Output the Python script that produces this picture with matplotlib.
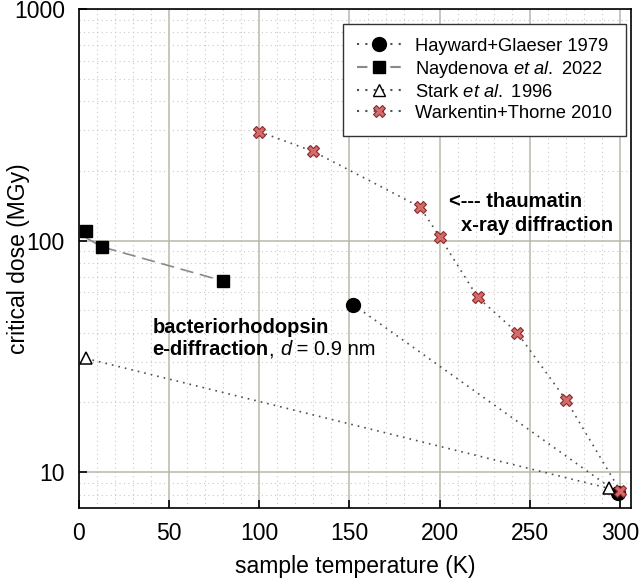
import matplotlib
matplotlib.use("Agg")
import matplotlib.pyplot as plt
from matplotlib.lines import Line2D

plt.rcParams['font.family'] = ['Liberation Sans', 'DejaVu Sans']
plt.rcParams['mathtext.fontset'] = 'custom'
plt.rcParams['mathtext.rm'] = 'Liberation Sans'
plt.rcParams['mathtext.it'] = 'Liberation Sans:italic'
plt.rcParams['mathtext.bf'] = 'Liberation Sans:bold'

# Hayward+Glaeser 1979
hg_temp = [152, 299]
hg_dose = [53, 8.1]

# Naydenova et al. 2022 (points and fitted curve)
nay_temp = [4, 13, 80]
nay_dose = [110, 94, 67]
nay_fit = [103, 94, 67]

# Stark et al. 1996
stark_temp = [4, 294]
stark_dose = [31, 8.5]

# Warkentin+Thorne 2010
wt_temp = [100, 130, 189, 200, 221, 243, 270, 300]
wt_dose = [296, 243, 140, 104, 57, 40, 20.5, 8.3]

dotcol = '#505050'
xcol = '#d46a6a'
xedge = '#8a2a2a'
fs = 14.5

fig = plt.figure(figsize=(6.4, 5.87), dpi=100)
ax = fig.add_axes([0.123, 0.1346, 0.863, 0.8496])

ax.plot(hg_temp, hg_dose, ls=(0, (1, 3)), color=dotcol, lw=1.2, zorder=3)
ax.plot(hg_temp, hg_dose, 'o', color='black', ms=10, zorder=4)

ax.plot(nay_temp, nay_fit, ls=(0, (8, 4)), color='#8a8a8a', lw=1.2, zorder=3)
ax.plot(nay_temp, nay_dose, 's', color='black', ms=8.5, zorder=4)

ax.plot(stark_temp, stark_dose, ls=(0, (1, 3)), color=dotcol, lw=1.2, zorder=3)
ax.plot(stark_temp, stark_dose, '^', mfc='white', mec='black', ms=8.5, mew=1.1, zorder=4)

ax.plot(wt_temp, wt_dose, ls=(0, (1, 3)), color=dotcol, lw=1.2, zorder=3)
ax.plot(wt_temp, wt_dose, 'X', mfc=xcol, mec=xedge, ms=9, mew=0.8, zorder=5)

ax.set_yscale('log')
ax.set_xlim(0, 306)
ax.set_ylim(7, 1000)
ax.set_xticks([0, 50, 100, 150, 200, 250, 300])
ax.set_yticks([10, 100, 1000])
ax.set_yticklabels(['10', '100', '1000'])
ax.set_xticks(range(10, 306, 10), minor=True)
ax.tick_params(which='major', direction='in', length=6, width=1.2, labelsize=16.5, pad=10)
ax.tick_params(which='minor', length=0)
ax.yaxis.set_minor_formatter(matplotlib.ticker.NullFormatter())

ax.grid(which='major', color='#b8b8a8', lw=1.1, ls='-', zorder=0)
ax.grid(which='minor', color='#c8c8c8', lw=0.8, ls=(0, (1, 3)), zorder=0)
ax.set_axisbelow(True)
for s in ax.spines.values():
    s.set_color('black')
    s.set_linewidth(1.2)

ax.set_xlabel('sample temperature (K)', fontsize=16.5, labelpad=7)
ax.set_ylabel('critical dose (MGy)', fontsize=16.5)
ax.yaxis.set_label_coords(-0.088, 0.5)

# annotations
ax.text(41, 40, 'bacteriorhodopsin', fontsize=fs, fontweight='bold', va='baseline')
t1 = ax.text(41, 32, 'e-diffraction', fontsize=fs, fontweight='bold', va='baseline')
t2 = ax.annotate(', ', xy=(1, 0), xycoords=t1, va='bottom', fontsize=fs)
t3 = ax.annotate('d', xy=(1, 0), xycoords=t2, va='bottom', fontsize=fs, style='italic')
ax.annotate(' = 0.9 nm', xy=(1, 0), xycoords=t3, va='bottom', fontsize=fs)

ax.text(205, 140, '<--- thaumatin', fontsize=fs, fontweight='bold', va='baseline')
ax.text(212, 110, 'x-ray diffraction', fontsize=fs, fontweight='bold', va='baseline')

handles = [
    Line2D([], [], ls=(0, (1, 3)), color=dotcol, marker='o', mfc='black', mec='black', ms=10),
    Line2D([], [], ls=(0, (5, 3)), color='#8a8a8a', marker='s', mfc='black', mec='black', ms=8.5),
    Line2D([], [], ls=(0, (1, 3)), color=dotcol, marker='^', mfc='white', mec='black', ms=8.5),
    Line2D([], [], ls=(0, (1, 3)), color=dotcol, marker='X', mfc=xcol, mec=xedge, ms=9, mew=0.8),
]
labels = ['Hayward+Glaeser 1979', r'Naydenova $\mathit{et\ al.}$ 2022',
          r'Stark $\mathit{et\ al.}$ 1996', 'Warkentin+Thorne 2010']
leg = ax.legend(handles, labels, loc='upper right', fontsize=13.2, fancybox=False,
                framealpha=1, edgecolor='#333333', handlelength=2.4, borderpad=0.75,
                labelspacing=0.22, borderaxespad=0, bbox_to_anchor=(0.991, 0.9705))
leg.get_frame().set_linewidth(1.0)

fig.savefig('out.png', dpi=100)
